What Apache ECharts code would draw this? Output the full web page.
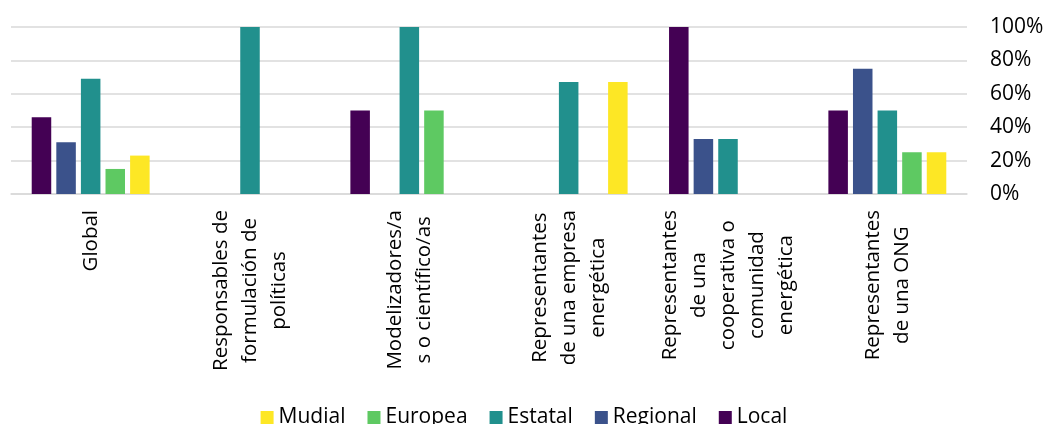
<!DOCTYPE html>
<html><head><meta charset="utf-8">
<script src="https://cdn.jsdelivr.net/npm/echarts@6/dist/echarts.min.js"></script>
<style>html,body{margin:0;padding:0;background:#fff}#c{width:1048px;height:424px}</style>
</head><body><div id="c"></div>
<script>
const categories = [
  "Global",
  "Responsables de\nformulación de\npolíticas",
  "Modelizadores/a\ns o científico/as",
  "Representantes\nde una empresa\nenergética",
  "Representantes\nde una\ncooperativa o\ncomunidad\nenergética",
  "Representantes\nde una ONG"
];
const local    = [46, 0, 50, 0, 100, 50];
const regional = [31, 0, 0, 0, 33, 75];
const estatal  = [69, 100, 100, 67, 33, 50];
const europea  = [15, 0, 50, 0, 0, 25];
const mudial   = [23, 0, 0, 67, 0, 25];
const yTicks = [0, 20, 40, 60, 80, 100];
const legendOrder = ["Mudial", "Europea", "Estatal", "Regional", "Local"];

const FONT = "Open Sans";
const mk = (name, data, color) => ({
  name, type: 'bar', data, itemStyle: {color},
  barGap: '26%', barCategoryGap: '26%'
});
const chart = echarts.init(document.getElementById('c'));
chart.setOption({
  animation: false,
  textStyle: {fontFamily: FONT},
  grid: {left: 11, right: 81, top: 27, bottom: 230, containLabel: false},
  legend: {
    data: legendOrder, bottom: -9, left: 'center',
    itemWidth: 13, itemHeight: 13, itemGap: 22, icon: 'rect',
    textStyle: {fontSize: 21, color: '#000', fontFamily: FONT}
  },
  xAxis: {
    type: 'category', data: categories,
    axisLine: {lineStyle: {color: '#d9d9d9', width: 1.5}},
    axisTick: {show: false},
    axisLabel: {
      rotate: 90, interval: 0, margin: 16, color: '#000', fontSize: 20.5, fontFamily: FONT,
      lineHeight: 29,
      formatter: v => v.split('\n').map(s => '{c|' + s + '}').join('\n'),
      rich: {c: {align: 'center', fontSize: 20.5, lineHeight: 29, fontFamily: FONT, color: '#000'}}
    }
  },
  yAxis: {
    type: 'value', position: 'right', min: yTicks[0], max: yTicks[yTicks.length - 1], interval: 20,
    axisLine: {show: false}, axisTick: {show: false},
    splitLine: {lineStyle: {color: '#d9d9d9', width: 1.5}},
    axisLabel: {formatter: v => v + '%', color: '#000', fontSize: 21, margin: 23, fontFamily: FONT}
  },
  series: [
    mk('Local', local, '#440154'),
    mk('Regional', regional, '#3b528b'),
    mk('Estatal', estatal, '#21908d'),
    mk('Europea', europea, '#5ec962'),
    mk('Mudial', mudial, '#fde725')
  ]
});
</script></body></html>
